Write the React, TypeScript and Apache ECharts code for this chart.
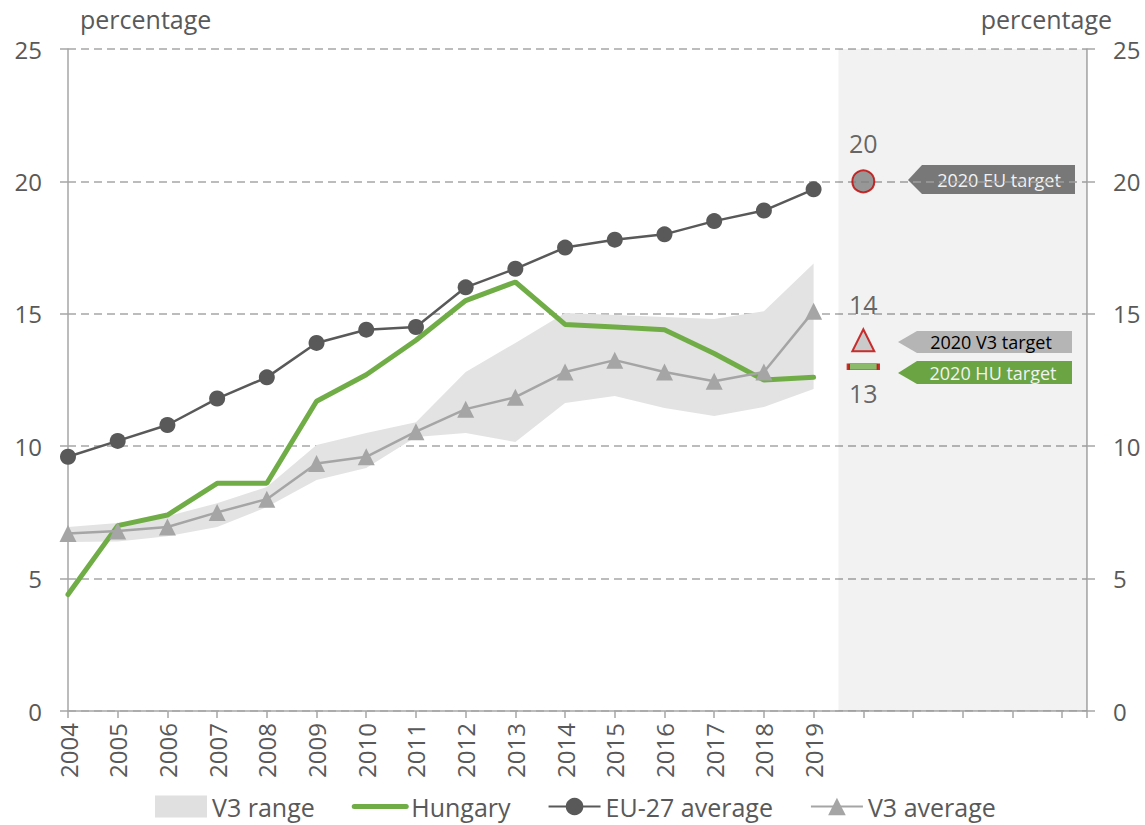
import React, { useEffect, useRef } from "react";
import * as echarts from "echarts";

const years = [2004, 2005, 2006, 2007, 2008, 2009, 2010, 2011, 2012, 2013, 2014, 2015, 2016, 2017, 2018, 2019];
const euAverage = [9.6, 10.2, 10.8, 11.8, 12.6, 13.9, 14.4, 14.5, 16.0, 16.7, 17.5, 17.8, 18.0, 18.5, 18.9, 19.7];
const hungary = [4.4, 7.0, 7.4, 8.6, 8.6, 11.7, 12.7, 14.0, 15.5, 16.2, 14.6, 14.5, 14.4, 13.5, 12.5, 12.6];
const v3Average = [6.7, 6.8, 6.95, 7.5, 8.0, 9.35, 9.6, 10.55, 11.4, 11.85, 12.8, 13.25, 12.8, 12.45, 12.8, 15.1];
const v3Low = [6.38, 6.4, 6.6, 6.95, 7.7, 8.72, 9.18, 10.35, 10.5, 10.16, 11.63, 11.9, 11.44, 11.14, 11.48, 12.16];
const v3High = [6.95, 7.1, 7.35, 7.85, 8.46, 10.05, 10.5, 10.9, 12.8, 13.9, 15.03, 14.95, 14.88, 14.8, 15.1, 16.9];
const targetYear = 2020;
const euTarget = 20;
const v3Target = 14;
const huTarget = 13;
const lastLabelledYear = 2019;
const xMin = 2004;
const xMax = 2024.5;
const shadeFrom = 2019.5;

const FONT = '"Open Sans", sans-serif';
const TXT = "#595959";
const AXIS = "#A6A6A6";

export default function App() {
  const ref = useRef<HTMLDivElement>(null);
  useEffect(() => {
    if (!ref.current) return;
    document.body.style.margin = "0";
    const chart = echarts.init(ref.current, null, { renderer: "svg" });
    const pair = (arr: number[]) => years.map((y, i) => [y, arr[i]]);
    const yAxisBase = {
      type: "value",
      min: 0,
      max: 25,
      interval: 5,
      axisLine: { show: true, lineStyle: { color: AXIS, width: 1.5 } },
      axisTick: { show: true, length: 8, lineStyle: { color: AXIS, width: 1.5 } },
      axisLabel: { color: TXT, fontSize: 24, fontFamily: FONT, margin: 26 },
    };
    const option: any = {
      animation: false,
      textStyle: { fontFamily: FONT },
      grid: { left: 68, right: 58, top: 49, bottom: 114 },
      xAxis: {
        type: "value",
        min: xMin,
        max: xMax,
        interval: 1,
        axisLine: { show: true, lineStyle: { color: AXIS, width: 1.5 } },
        axisTick: { show: true, length: 7, lineStyle: { color: AXIS, width: 1.5 } },
        splitLine: { show: false },
        axisLabel: {
          rotate: 90,
          margin: 12,
          color: TXT,
          fontSize: 24,
          fontFamily: FONT,
          formatter: (v: number) => (Number.isInteger(v) && v <= lastLabelledYear ? String(v) : ""),
        },
      },
      yAxis: [
        {
          ...yAxisBase,
          position: "left",
          splitLine: { show: true, lineStyle: { color: AXIS, width: 1.5, type: [8, 5] } },
        },
        {
          ...yAxisBase,
          position: "right",
          splitLine: { show: false },
        },
      ],
      legend: {
        left: 150,
        top: 789,
        itemGap: 37,
        itemWidth: 52,
        itemHeight: 22,
        textStyle: { color: TXT, fontSize: 25, fontFamily: FONT },
        data: [
          { name: "V3 range", icon: "rect", itemStyle: { color: "#E0E0E0" } },
          {
            name: "Hungary",
            itemStyle: { color: "rgba(0,0,0,0)", opacity: 0 },
            lineStyle: { color: "#70AD47", width: 5 },
          },
          { name: "EU-27 average" },
          { name: "V3 average" },
        ],
      },
      graphic: [
        { type: "text", left: 80, top: 6, style: { text: "percentage", fill: TXT, fontSize: 25, fontFamily: FONT } },
        { type: "text", right: 33, top: 6, style: { text: "percentage", fill: TXT, fontSize: 25, fontFamily: FONT } },
        {
          type: "polygon",
          shape: { points: [[908, 180], [922, 165], [1075, 165], [1075, 194], [922, 194]] },
          style: { fill: "#7F7F7F" },
        },
        {
          type: "text",
          x: 999,
          y: 180,
          style: { text: "2020 EU target", fill: "#FFFFFF", fontSize: 18, fontFamily: FONT, align: "center", verticalAlign: "middle" },
        },
        {
          type: "polygon",
          shape: { points: [[898, 342], [917, 331], [1072, 331], [1072, 353], [917, 353]] },
          style: { fill: "#BFBFBF" },
        },
        {
          type: "text",
          x: 991,
          y: 342,
          style: { text: "2020 V3 target", fill: "#000000", fontSize: 18, fontFamily: FONT, align: "center", verticalAlign: "middle" },
        },
        {
          type: "polygon",
          shape: { points: [[898, 373], [917, 361], [1072, 361], [1072, 384], [917, 384]] },
          style: { fill: "#70AD47" },
        },
        {
          type: "text",
          x: 993,
          y: 373,
          style: { text: "2020 HU target", fill: "#FFFFFF", fontSize: 18, fontFamily: FONT, align: "center", verticalAlign: "middle" },
        },
      ],
      series: [
        {
          name: "V3 range",
          type: "custom",
          data: [[xMin, 0]],
          silent: true,
          z: 1,
          itemStyle: { color: "#E3E3E3" },
          renderItem: (params: any, api: any) => {
            const upper = years.map((y, i) => api.coord([y, v3High[i]]));
            const lower = years.map((y, i) => api.coord([y, v3Low[i]])).reverse();
            return {
              type: "polygon",
              shape: { points: upper.concat(lower) },
              style: { fill: "#E3E3E3" },
            };
          },
          markArea: {
            silent: true,
            itemStyle: { color: "rgba(0,0,0,0.05)" },
            data: [[{ xAxis: shadeFrom, yAxis: 0 }, { xAxis: xMax, yAxis: 25 }]],
          },
        },
        {
          name: "Hungary",
          type: "line",
          data: pair(hungary),
          symbol: "none",
          lineStyle: { color: "#70AD47", width: 5, cap: "round" },
          itemStyle: { color: "#70AD47" },
          z: 3,
        },
        {
          name: "EU-27 average",
          type: "line",
          data: pair(euAverage),
          symbol: "circle",
          symbolSize: 16,
          lineStyle: { color: "#595959", width: 2.5 },
          itemStyle: { color: "#595959" },
          z: 4,
        },
        {
          name: "V3 average",
          type: "line",
          data: pair(v3Average),
          symbol: "triangle",
          symbolSize: 17,
          lineStyle: { color: "#A5A5A5", width: 2.5 },
          itemStyle: { color: "#A5A5A5" },
          z: 4,
        },
        {
          name: "EU target",
          type: "scatter",
          data: [[targetYear, euTarget]],
          symbol: "circle",
          symbolSize: 22,
          itemStyle: { color: "#7F7F7F", borderColor: "#C00000", borderWidth: 2 },
          label: { show: true, position: "top", distance: 14, color: "#404040", fontSize: 25, fontFamily: FONT, formatter: (p: any) => String(p.value[1]) },
          z: 5,
        },
        {
          name: "V3 target",
          type: "scatter",
          data: [[targetYear, v3Target]],
          symbol: "triangle",
          symbolSize: 22,
          itemStyle: { color: "#BFBFBF", borderColor: "#C00000", borderWidth: 2 },
          label: { show: true, position: "top", distance: 12, color: "#404040", fontSize: 25, fontFamily: FONT, formatter: (p: any) => String(p.value[1]) },
          z: 5,
        },
        {
          name: "HU target",
          type: "scatter",
          data: [[targetYear, huTarget]],
          symbol: "rect",
          symbolSize: [30, 6],
          itemStyle: { color: "#70AD47", borderColor: "#C00000", borderWidth: 1.5 },
          label: { show: true, position: "bottom", distance: 10, color: "#404040", fontSize: 25, fontFamily: FONT, formatter: (p: any) => String(p.value[1]) },
          z: 5,
        },
      ],
    };
    chart.setOption(option);
    return () => chart.dispose();
  }, []);
  return <div ref={ref} style={{ width: 1145, height: 825 }} />;
}
